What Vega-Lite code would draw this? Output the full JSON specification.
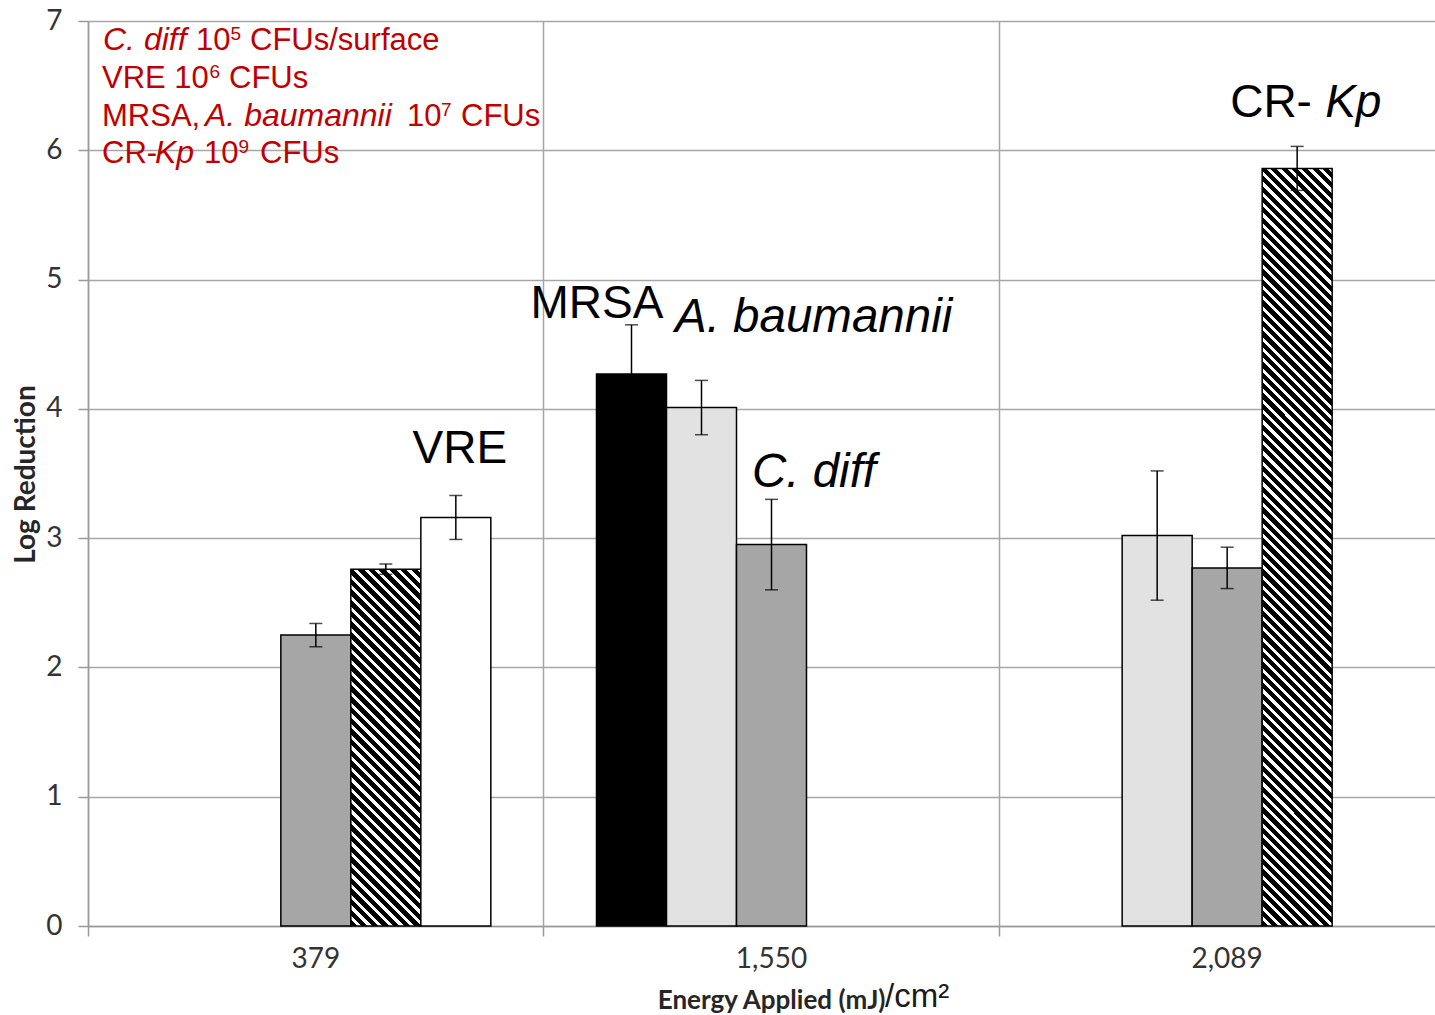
{
"$schema":"https://vega.github.io/schema/vega-lite/v6.json",
"width":1347,"height":905,
"autosize":{"type":"none"},
"padding":{"left":88,"top":21,"right":0,"bottom":89},
"background":"#ffffff",
"config":{"view":{"stroke":null},
 "axis":{"domainColor":"#9a9a9a","domainWidth":1.5,"tickColor":"#9a9a9a","tickWidth":1.5,"tickSize":10,"gridColor":"#a6a6a6","gridWidth":1.5,"labelFont":"Lato","labelFontSize":28,"labelColor":"#333333","titleFont":"Lato","titleFontWeight":"bold","titleColor":"#262626"},
 "text":{"font":"Liberation Sans","baseline":"alphabetic","align":"left"}},
"datasets":{"bars":[
{"g":"379","s":"C. diff","v":2.25,"lo":2.16,"hi":2.34},
{"g":"379","s":"CR-Kp","v":2.76,"lo":2.72,"hi":2.8},
{"g":"379","s":"VRE","v":3.16,"lo":2.99,"hi":3.33},
{"g":"1,550","s":"MRSA","v":4.27,"lo":3.89,"hi":4.65},
{"g":"1,550","s":"A. baumannii","v":4.01,"lo":3.8,"hi":4.22},
{"g":"1,550","s":"C. diff","v":2.95,"lo":2.6,"hi":3.3},
{"g":"2,089","s":"A. baumannii","v":3.02,"lo":2.52,"hi":3.52},
{"g":"2,089","s":"C. diff","v":2.77,"lo":2.61,"hi":2.93},
{"g":"2,089","s":"CR-Kp","v":5.86,"lo":5.69,"hi":6.03}
]},
"encoding":{
 "x":{"field":"g","type":"nominal","scale":{"domain":["379","1,550","2,089"],"range":[0,1367],"paddingInner":0,"paddingOuter":0}},
 "y":{"field":"v","type":"quantitative","scale":{"domain":[0,7]}}
},
"layer":[
{"data":{"name":"bars"},
 "mark":{"type":"bar","stroke":"#000000","strokeWidth":1.5},
 "encoding":{
  "x":{"field":"g","type":"nominal","scale":{"domain":["379","1,550","2,089"],"range":[0,1367],"paddingInner":0,"paddingOuter":0},
       "axis":{"title":"Energy Applied (mJ)","bandPosition":0,"grid":true,"labelAngle":0,"labelPadding":9,"titleFontSize":26,"titleAlign":"right","titleX":797,"titleY":82,"titleBaseline":"alphabetic"}},
  "xOffset":{"field":"s","type":"nominal","scale":{"domain":["MRSA","A. baumannii","C. diff","CR-Kp","VRE"],"paddingInner":0,"paddingOuter":0.7548}},
  "y":{"field":"v","type":"quantitative","scale":{"domain":[0,7]},
       "axis":{"title":"Log Reduction","values":[0,1,2,3,4,5,6,7],"format":"d","labelPadding":16,"titleFontSize":28,"titleX":-62,"titleY":453,"titleAngle":-90,"titleAlign":"center","titleBaseline":"middle"}},
  "fill":{"condition":[
    {"test":"datum.s==='MRSA'","value":"#000000"},
    {"test":"datum.s==='A. baumannii'","value":"#e2e2e2"},
    {"test":"datum.s==='C. diff'","value":"#a6a6a6"},
    {"test":"datum.s==='CR-Kp' && datum.g==='379'","value":{"gradient":"linear","x1":0,"y1":1,"x2":0.226,"y2":-0.1519,"stops":[
{"offset":0,"color":"#000"},{"offset":0.015,"color":"#000"},{"offset":0.015,"color":"#fff"},{"offset":0.025,"color":"#fff"},
{"offset":0.025,"color":"#000"},{"offset":0.04,"color":"#000"},{"offset":0.04,"color":"#fff"},{"offset":0.05,"color":"#fff"},
{"offset":0.05,"color":"#000"},{"offset":0.065,"color":"#000"},{"offset":0.065,"color":"#fff"},{"offset":0.075,"color":"#fff"},
{"offset":0.075,"color":"#000"},{"offset":0.09,"color":"#000"},{"offset":0.09,"color":"#fff"},{"offset":0.1,"color":"#fff"},
{"offset":0.1,"color":"#000"},{"offset":0.115,"color":"#000"},{"offset":0.115,"color":"#fff"},{"offset":0.125,"color":"#fff"},
{"offset":0.125,"color":"#000"},{"offset":0.14,"color":"#000"},{"offset":0.14,"color":"#fff"},{"offset":0.15,"color":"#fff"},
{"offset":0.15,"color":"#000"},{"offset":0.165,"color":"#000"},{"offset":0.165,"color":"#fff"},{"offset":0.175,"color":"#fff"},
{"offset":0.175,"color":"#000"},{"offset":0.19,"color":"#000"},{"offset":0.19,"color":"#fff"},{"offset":0.2,"color":"#fff"},
{"offset":0.2,"color":"#000"},{"offset":0.215,"color":"#000"},{"offset":0.215,"color":"#fff"},{"offset":0.225,"color":"#fff"},
{"offset":0.225,"color":"#000"},{"offset":0.24,"color":"#000"},{"offset":0.24,"color":"#fff"},{"offset":0.25,"color":"#fff"},
{"offset":0.25,"color":"#000"},{"offset":0.265,"color":"#000"},{"offset":0.265,"color":"#fff"},{"offset":0.275,"color":"#fff"},
{"offset":0.275,"color":"#000"},{"offset":0.29,"color":"#000"},{"offset":0.29,"color":"#fff"},{"offset":0.3,"color":"#fff"},
{"offset":0.3,"color":"#000"},{"offset":0.315,"color":"#000"},{"offset":0.315,"color":"#fff"},{"offset":0.325,"color":"#fff"},
{"offset":0.325,"color":"#000"},{"offset":0.34,"color":"#000"},{"offset":0.34,"color":"#fff"},{"offset":0.35,"color":"#fff"},
{"offset":0.35,"color":"#000"},{"offset":0.365,"color":"#000"},{"offset":0.365,"color":"#fff"},{"offset":0.375,"color":"#fff"},
{"offset":0.375,"color":"#000"},{"offset":0.39,"color":"#000"},{"offset":0.39,"color":"#fff"},{"offset":0.4,"color":"#fff"},
{"offset":0.4,"color":"#000"},{"offset":0.415,"color":"#000"},{"offset":0.415,"color":"#fff"},{"offset":0.425,"color":"#fff"},
{"offset":0.425,"color":"#000"},{"offset":0.44,"color":"#000"},{"offset":0.44,"color":"#fff"},{"offset":0.45,"color":"#fff"},
{"offset":0.45,"color":"#000"},{"offset":0.465,"color":"#000"},{"offset":0.465,"color":"#fff"},{"offset":0.475,"color":"#fff"},
{"offset":0.475,"color":"#000"},{"offset":0.49,"color":"#000"},{"offset":0.49,"color":"#fff"},{"offset":0.5,"color":"#fff"},
{"offset":0.5,"color":"#000"},{"offset":0.515,"color":"#000"},{"offset":0.515,"color":"#fff"},{"offset":0.525,"color":"#fff"},
{"offset":0.525,"color":"#000"},{"offset":0.54,"color":"#000"},{"offset":0.54,"color":"#fff"},{"offset":0.55,"color":"#fff"},
{"offset":0.55,"color":"#000"},{"offset":0.565,"color":"#000"},{"offset":0.565,"color":"#fff"},{"offset":0.575,"color":"#fff"},
{"offset":0.575,"color":"#000"},{"offset":0.59,"color":"#000"},{"offset":0.59,"color":"#fff"},{"offset":0.6,"color":"#fff"},
{"offset":0.6,"color":"#000"},{"offset":0.615,"color":"#000"},{"offset":0.615,"color":"#fff"},{"offset":0.625,"color":"#fff"},
{"offset":0.625,"color":"#000"},{"offset":0.64,"color":"#000"},{"offset":0.64,"color":"#fff"},{"offset":0.65,"color":"#fff"},
{"offset":0.65,"color":"#000"},{"offset":0.665,"color":"#000"},{"offset":0.665,"color":"#fff"},{"offset":0.675,"color":"#fff"},
{"offset":0.675,"color":"#000"},{"offset":0.69,"color":"#000"},{"offset":0.69,"color":"#fff"},{"offset":0.7,"color":"#fff"},
{"offset":0.7,"color":"#000"},{"offset":0.715,"color":"#000"},{"offset":0.715,"color":"#fff"},{"offset":0.725,"color":"#fff"},
{"offset":0.725,"color":"#000"},{"offset":0.74,"color":"#000"},{"offset":0.74,"color":"#fff"},{"offset":0.75,"color":"#fff"},
{"offset":0.75,"color":"#000"},{"offset":0.765,"color":"#000"},{"offset":0.765,"color":"#fff"},{"offset":0.775,"color":"#fff"},
{"offset":0.775,"color":"#000"},{"offset":0.79,"color":"#000"},{"offset":0.79,"color":"#fff"},{"offset":0.8,"color":"#fff"},
{"offset":0.8,"color":"#000"},{"offset":0.815,"color":"#000"},{"offset":0.815,"color":"#fff"},{"offset":0.825,"color":"#fff"},
{"offset":0.825,"color":"#000"},{"offset":0.84,"color":"#000"},{"offset":0.84,"color":"#fff"},{"offset":0.85,"color":"#fff"},
{"offset":0.85,"color":"#000"},{"offset":0.865,"color":"#000"},{"offset":0.865,"color":"#fff"},{"offset":0.875,"color":"#fff"},
{"offset":0.875,"color":"#000"},{"offset":0.89,"color":"#000"},{"offset":0.89,"color":"#fff"},{"offset":0.9,"color":"#fff"},
{"offset":0.9,"color":"#000"},{"offset":0.915,"color":"#000"},{"offset":0.915,"color":"#fff"},{"offset":0.925,"color":"#fff"},
{"offset":0.925,"color":"#000"},{"offset":0.94,"color":"#000"},{"offset":0.94,"color":"#fff"},{"offset":0.95,"color":"#fff"},
{"offset":0.95,"color":"#000"},{"offset":0.965,"color":"#000"},{"offset":0.965,"color":"#fff"},{"offset":0.975,"color":"#fff"},
{"offset":0.975,"color":"#000"},{"offset":0.99,"color":"#000"},{"offset":0.99,"color":"#fff"},{"offset":1,"color":"#fff"}
]}},
    {"test":"datum.s==='CR-Kp'","value":{"gradient":"linear","x1":0,"y1":1,"x2":0.1001,"y2":-0.0832,"stops":[
{"offset":0,"color":"#000"},{"offset":0.0075,"color":"#000"},{"offset":0.0075,"color":"#fff"},{"offset":0.0125,"color":"#fff"},
{"offset":0.0125,"color":"#000"},{"offset":0.02,"color":"#000"},{"offset":0.02,"color":"#fff"},{"offset":0.025,"color":"#fff"},
{"offset":0.025,"color":"#000"},{"offset":0.0325,"color":"#000"},{"offset":0.0325,"color":"#fff"},{"offset":0.0375,"color":"#fff"},
{"offset":0.0375,"color":"#000"},{"offset":0.045,"color":"#000"},{"offset":0.045,"color":"#fff"},{"offset":0.05,"color":"#fff"},
{"offset":0.05,"color":"#000"},{"offset":0.0575,"color":"#000"},{"offset":0.0575,"color":"#fff"},{"offset":0.0625,"color":"#fff"},
{"offset":0.0625,"color":"#000"},{"offset":0.07,"color":"#000"},{"offset":0.07,"color":"#fff"},{"offset":0.075,"color":"#fff"},
{"offset":0.075,"color":"#000"},{"offset":0.0825,"color":"#000"},{"offset":0.0825,"color":"#fff"},{"offset":0.0875,"color":"#fff"},
{"offset":0.0875,"color":"#000"},{"offset":0.095,"color":"#000"},{"offset":0.095,"color":"#fff"},{"offset":0.1,"color":"#fff"},
{"offset":0.1,"color":"#000"},{"offset":0.1075,"color":"#000"},{"offset":0.1075,"color":"#fff"},{"offset":0.1125,"color":"#fff"},
{"offset":0.1125,"color":"#000"},{"offset":0.12,"color":"#000"},{"offset":0.12,"color":"#fff"},{"offset":0.125,"color":"#fff"},
{"offset":0.125,"color":"#000"},{"offset":0.1325,"color":"#000"},{"offset":0.1325,"color":"#fff"},{"offset":0.1375,"color":"#fff"},
{"offset":0.1375,"color":"#000"},{"offset":0.145,"color":"#000"},{"offset":0.145,"color":"#fff"},{"offset":0.15,"color":"#fff"},
{"offset":0.15,"color":"#000"},{"offset":0.1575,"color":"#000"},{"offset":0.1575,"color":"#fff"},{"offset":0.1625,"color":"#fff"},
{"offset":0.1625,"color":"#000"},{"offset":0.17,"color":"#000"},{"offset":0.17,"color":"#fff"},{"offset":0.175,"color":"#fff"},
{"offset":0.175,"color":"#000"},{"offset":0.1825,"color":"#000"},{"offset":0.1825,"color":"#fff"},{"offset":0.1875,"color":"#fff"},
{"offset":0.1875,"color":"#000"},{"offset":0.195,"color":"#000"},{"offset":0.195,"color":"#fff"},{"offset":0.2,"color":"#fff"},
{"offset":0.2,"color":"#000"},{"offset":0.2075,"color":"#000"},{"offset":0.2075,"color":"#fff"},{"offset":0.2125,"color":"#fff"},
{"offset":0.2125,"color":"#000"},{"offset":0.22,"color":"#000"},{"offset":0.22,"color":"#fff"},{"offset":0.225,"color":"#fff"},
{"offset":0.225,"color":"#000"},{"offset":0.2325,"color":"#000"},{"offset":0.2325,"color":"#fff"},{"offset":0.2375,"color":"#fff"},
{"offset":0.2375,"color":"#000"},{"offset":0.245,"color":"#000"},{"offset":0.245,"color":"#fff"},{"offset":0.25,"color":"#fff"},
{"offset":0.25,"color":"#000"},{"offset":0.2575,"color":"#000"},{"offset":0.2575,"color":"#fff"},{"offset":0.2625,"color":"#fff"},
{"offset":0.2625,"color":"#000"},{"offset":0.27,"color":"#000"},{"offset":0.27,"color":"#fff"},{"offset":0.275,"color":"#fff"},
{"offset":0.275,"color":"#000"},{"offset":0.2825,"color":"#000"},{"offset":0.2825,"color":"#fff"},{"offset":0.2875,"color":"#fff"},
{"offset":0.2875,"color":"#000"},{"offset":0.295,"color":"#000"},{"offset":0.295,"color":"#fff"},{"offset":0.3,"color":"#fff"},
{"offset":0.3,"color":"#000"},{"offset":0.3075,"color":"#000"},{"offset":0.3075,"color":"#fff"},{"offset":0.3125,"color":"#fff"},
{"offset":0.3125,"color":"#000"},{"offset":0.32,"color":"#000"},{"offset":0.32,"color":"#fff"},{"offset":0.325,"color":"#fff"},
{"offset":0.325,"color":"#000"},{"offset":0.3325,"color":"#000"},{"offset":0.3325,"color":"#fff"},{"offset":0.3375,"color":"#fff"},
{"offset":0.3375,"color":"#000"},{"offset":0.345,"color":"#000"},{"offset":0.345,"color":"#fff"},{"offset":0.35,"color":"#fff"},
{"offset":0.35,"color":"#000"},{"offset":0.3575,"color":"#000"},{"offset":0.3575,"color":"#fff"},{"offset":0.3625,"color":"#fff"},
{"offset":0.3625,"color":"#000"},{"offset":0.37,"color":"#000"},{"offset":0.37,"color":"#fff"},{"offset":0.375,"color":"#fff"},
{"offset":0.375,"color":"#000"},{"offset":0.3825,"color":"#000"},{"offset":0.3825,"color":"#fff"},{"offset":0.3875,"color":"#fff"},
{"offset":0.3875,"color":"#000"},{"offset":0.395,"color":"#000"},{"offset":0.395,"color":"#fff"},{"offset":0.4,"color":"#fff"},
{"offset":0.4,"color":"#000"},{"offset":0.4075,"color":"#000"},{"offset":0.4075,"color":"#fff"},{"offset":0.4125,"color":"#fff"},
{"offset":0.4125,"color":"#000"},{"offset":0.42,"color":"#000"},{"offset":0.42,"color":"#fff"},{"offset":0.425,"color":"#fff"},
{"offset":0.425,"color":"#000"},{"offset":0.4325,"color":"#000"},{"offset":0.4325,"color":"#fff"},{"offset":0.4375,"color":"#fff"},
{"offset":0.4375,"color":"#000"},{"offset":0.445,"color":"#000"},{"offset":0.445,"color":"#fff"},{"offset":0.45,"color":"#fff"},
{"offset":0.45,"color":"#000"},{"offset":0.4575,"color":"#000"},{"offset":0.4575,"color":"#fff"},{"offset":0.4625,"color":"#fff"},
{"offset":0.4625,"color":"#000"},{"offset":0.47,"color":"#000"},{"offset":0.47,"color":"#fff"},{"offset":0.475,"color":"#fff"},
{"offset":0.475,"color":"#000"},{"offset":0.4825,"color":"#000"},{"offset":0.4825,"color":"#fff"},{"offset":0.4875,"color":"#fff"},
{"offset":0.4875,"color":"#000"},{"offset":0.495,"color":"#000"},{"offset":0.495,"color":"#fff"},{"offset":0.5,"color":"#fff"},
{"offset":0.5,"color":"#000"},{"offset":0.5075,"color":"#000"},{"offset":0.5075,"color":"#fff"},{"offset":0.5125,"color":"#fff"},
{"offset":0.5125,"color":"#000"},{"offset":0.52,"color":"#000"},{"offset":0.52,"color":"#fff"},{"offset":0.525,"color":"#fff"},
{"offset":0.525,"color":"#000"},{"offset":0.5325,"color":"#000"},{"offset":0.5325,"color":"#fff"},{"offset":0.5375,"color":"#fff"},
{"offset":0.5375,"color":"#000"},{"offset":0.545,"color":"#000"},{"offset":0.545,"color":"#fff"},{"offset":0.55,"color":"#fff"},
{"offset":0.55,"color":"#000"},{"offset":0.5575,"color":"#000"},{"offset":0.5575,"color":"#fff"},{"offset":0.5625,"color":"#fff"},
{"offset":0.5625,"color":"#000"},{"offset":0.57,"color":"#000"},{"offset":0.57,"color":"#fff"},{"offset":0.575,"color":"#fff"},
{"offset":0.575,"color":"#000"},{"offset":0.5825,"color":"#000"},{"offset":0.5825,"color":"#fff"},{"offset":0.5875,"color":"#fff"},
{"offset":0.5875,"color":"#000"},{"offset":0.595,"color":"#000"},{"offset":0.595,"color":"#fff"},{"offset":0.6,"color":"#fff"},
{"offset":0.6,"color":"#000"},{"offset":0.6075,"color":"#000"},{"offset":0.6075,"color":"#fff"},{"offset":0.6125,"color":"#fff"},
{"offset":0.6125,"color":"#000"},{"offset":0.62,"color":"#000"},{"offset":0.62,"color":"#fff"},{"offset":0.625,"color":"#fff"},
{"offset":0.625,"color":"#000"},{"offset":0.6325,"color":"#000"},{"offset":0.6325,"color":"#fff"},{"offset":0.6375,"color":"#fff"},
{"offset":0.6375,"color":"#000"},{"offset":0.645,"color":"#000"},{"offset":0.645,"color":"#fff"},{"offset":0.65,"color":"#fff"},
{"offset":0.65,"color":"#000"},{"offset":0.6575,"color":"#000"},{"offset":0.6575,"color":"#fff"},{"offset":0.6625,"color":"#fff"},
{"offset":0.6625,"color":"#000"},{"offset":0.67,"color":"#000"},{"offset":0.67,"color":"#fff"},{"offset":0.675,"color":"#fff"},
{"offset":0.675,"color":"#000"},{"offset":0.6825,"color":"#000"},{"offset":0.6825,"color":"#fff"},{"offset":0.6875,"color":"#fff"},
{"offset":0.6875,"color":"#000"},{"offset":0.695,"color":"#000"},{"offset":0.695,"color":"#fff"},{"offset":0.7,"color":"#fff"},
{"offset":0.7,"color":"#000"},{"offset":0.7075,"color":"#000"},{"offset":0.7075,"color":"#fff"},{"offset":0.7125,"color":"#fff"},
{"offset":0.7125,"color":"#000"},{"offset":0.72,"color":"#000"},{"offset":0.72,"color":"#fff"},{"offset":0.725,"color":"#fff"},
{"offset":0.725,"color":"#000"},{"offset":0.7325,"color":"#000"},{"offset":0.7325,"color":"#fff"},{"offset":0.7375,"color":"#fff"},
{"offset":0.7375,"color":"#000"},{"offset":0.745,"color":"#000"},{"offset":0.745,"color":"#fff"},{"offset":0.75,"color":"#fff"},
{"offset":0.75,"color":"#000"},{"offset":0.7575,"color":"#000"},{"offset":0.7575,"color":"#fff"},{"offset":0.7625,"color":"#fff"},
{"offset":0.7625,"color":"#000"},{"offset":0.77,"color":"#000"},{"offset":0.77,"color":"#fff"},{"offset":0.775,"color":"#fff"},
{"offset":0.775,"color":"#000"},{"offset":0.7825,"color":"#000"},{"offset":0.7825,"color":"#fff"},{"offset":0.7875,"color":"#fff"},
{"offset":0.7875,"color":"#000"},{"offset":0.795,"color":"#000"},{"offset":0.795,"color":"#fff"},{"offset":0.8,"color":"#fff"},
{"offset":0.8,"color":"#000"},{"offset":0.8075,"color":"#000"},{"offset":0.8075,"color":"#fff"},{"offset":0.8125,"color":"#fff"},
{"offset":0.8125,"color":"#000"},{"offset":0.82,"color":"#000"},{"offset":0.82,"color":"#fff"},{"offset":0.825,"color":"#fff"},
{"offset":0.825,"color":"#000"},{"offset":0.8325,"color":"#000"},{"offset":0.8325,"color":"#fff"},{"offset":0.8375,"color":"#fff"},
{"offset":0.8375,"color":"#000"},{"offset":0.845,"color":"#000"},{"offset":0.845,"color":"#fff"},{"offset":0.85,"color":"#fff"},
{"offset":0.85,"color":"#000"},{"offset":0.8575,"color":"#000"},{"offset":0.8575,"color":"#fff"},{"offset":0.8625,"color":"#fff"},
{"offset":0.8625,"color":"#000"},{"offset":0.87,"color":"#000"},{"offset":0.87,"color":"#fff"},{"offset":0.875,"color":"#fff"},
{"offset":0.875,"color":"#000"},{"offset":0.8825,"color":"#000"},{"offset":0.8825,"color":"#fff"},{"offset":0.8875,"color":"#fff"},
{"offset":0.8875,"color":"#000"},{"offset":0.895,"color":"#000"},{"offset":0.895,"color":"#fff"},{"offset":0.9,"color":"#fff"},
{"offset":0.9,"color":"#000"},{"offset":0.9075,"color":"#000"},{"offset":0.9075,"color":"#fff"},{"offset":0.9125,"color":"#fff"},
{"offset":0.9125,"color":"#000"},{"offset":0.92,"color":"#000"},{"offset":0.92,"color":"#fff"},{"offset":0.925,"color":"#fff"},
{"offset":0.925,"color":"#000"},{"offset":0.9325,"color":"#000"},{"offset":0.9325,"color":"#fff"},{"offset":0.9375,"color":"#fff"},
{"offset":0.9375,"color":"#000"},{"offset":0.945,"color":"#000"},{"offset":0.945,"color":"#fff"},{"offset":0.95,"color":"#fff"},
{"offset":0.95,"color":"#000"},{"offset":0.9575,"color":"#000"},{"offset":0.9575,"color":"#fff"},{"offset":0.9625,"color":"#fff"},
{"offset":0.9625,"color":"#000"},{"offset":0.97,"color":"#000"},{"offset":0.97,"color":"#fff"},{"offset":0.975,"color":"#fff"},
{"offset":0.975,"color":"#000"},{"offset":0.9825,"color":"#000"},{"offset":0.9825,"color":"#fff"},{"offset":0.9875,"color":"#fff"},
{"offset":0.9875,"color":"#000"},{"offset":0.995,"color":"#000"},{"offset":0.995,"color":"#fff"},{"offset":1,"color":"#fff"}
]}}
  ],"value":"#ffffff"}
 }},
{"data":{"name":"bars"},
 "mark":{"type":"rule","color":"#000000","strokeWidth":1.5},
 "encoding":{
  "xOffset":{"field":"s","type":"nominal","scale":{"domain":["MRSA","A. baumannii","C. diff","CR-Kp","VRE"],"paddingInner":0,"paddingOuter":0.7548}},
  "y":{"field":"lo","type":"quantitative","scale":{"domain":[0,7]}},
  "y2":{"field":"hi"}}},
{"data":{"name":"bars"},
 "mark":{"type":"tick","color":"#000000","thickness":1.5,"size":13},
 "encoding":{
  "xOffset":{"field":"s","type":"nominal","scale":{"domain":["MRSA","A. baumannii","C. diff","CR-Kp","VRE"],"paddingInner":0,"paddingOuter":0.7548}},
  "y":{"field":"lo","type":"quantitative","scale":{"domain":[0,7]}}}},
{"data":{"name":"bars"},
 "mark":{"type":"tick","color":"#000000","thickness":1.5,"size":13},
 "encoding":{
  "xOffset":{"field":"s","type":"nominal","scale":{"domain":["MRSA","A. baumannii","C. diff","CR-Kp","VRE"],"paddingInner":0,"paddingOuter":0.7548}},
  "y":{"field":"hi","type":"quantitative","scale":{"domain":[0,7]}}}},
{"data":{"values":[{"g":"379","s":"VRE","v":3.581,"t":"VRE"}]},
 "mark":{"type":"text","fontSize":46,"color":"#000000","align":"center","dx":4},
 "encoding":{
  "xOffset":{"field":"s","type":"nominal","scale":{"domain":["MRSA","A. baumannii","C. diff","CR-Kp","VRE"],"paddingInner":0,"paddingOuter":0.7548}},
  "text":{"field":"t"}}},
{"data":{"values":[{"g":"1,550","s":"MRSA","v":4.703,"t":"MRSA"}]},
 "mark":{"type":"text","fontSize":46,"color":"#000000","align":"center","dx":-34.5},
 "encoding":{
  "xOffset":{"field":"s","type":"nominal","scale":{"domain":["MRSA","A. baumannii","C. diff","CR-Kp","VRE"],"paddingInner":0,"paddingOuter":0.7548}},
  "text":{"field":"t"}}},
{"data":{"values":[{"g":"1,550","s":"A. baumannii","v":4.594,"t":"A. baumannii"}]},
 "mark":{"type":"text","fontSize":47.5,"fontStyle":"italic","color":"#000000","dx":-26.5},
 "encoding":{
  "xOffset":{"field":"s","type":"nominal","scale":{"domain":["MRSA","A. baumannii","C. diff","CR-Kp","VRE"],"paddingInner":0,"paddingOuter":0.7548}},
  "text":{"field":"t"}}},
{"data":{"values":[{"g":"1,550","s":"C. diff","v":3.396,"t":"C. diff"}]},
 "mark":{"type":"text","fontSize":47.5,"fontStyle":"italic","color":"#000000","dx":-19.5},
 "encoding":{
  "xOffset":{"field":"s","type":"nominal","scale":{"domain":["MRSA","A. baumannii","C. diff","CR-Kp","VRE"],"paddingInner":0,"paddingOuter":0.7548}},
  "text":{"field":"t"}}},
{"data":{"values":[{"g":"2,089","s":"CR-Kp","v":6.257,"t":"CR-"}]},
 "mark":{"type":"text","fontSize":46,"color":"#000000","dx":-67},
 "encoding":{
  "xOffset":{"field":"s","type":"nominal","scale":{"domain":["MRSA","A. baumannii","C. diff","CR-Kp","VRE"],"paddingInner":0,"paddingOuter":0.7548}},
  "text":{"field":"t"}}},
{"data":{"values":[{"g":"2,089","s":"CR-Kp","v":6.257,"t":"Kp"}]},
 "mark":{"type":"text","fontSize":46,"fontStyle":"italic","color":"#000000","dx":28},
 "encoding":{
  "xOffset":{"field":"s","type":"nominal","scale":{"domain":["MRSA","A. baumannii","C. diff","CR-Kp","VRE"],"paddingInner":0,"paddingOuter":0.7548}},
  "text":{"field":"t"}}},
{"data":{"values":[{"g":"379","v":6.482,"t":"VRE 10"},{"g":"379","v":6.188,"t":"MRSA,"},{"g":"379","v":5.902,"t":"CR-"}]},
 "mark":{"type":"text","fontSize":31,"color":"#c00000","dx":14},
 "encoding":{"x":{"field":"g","type":"nominal","bandPosition":0,"scale":{"domain":["379","1,550","2,089"],"range":[0,1367],"paddingInner":0,"paddingOuter":0}},"text":{"field":"t"}}},
{"data":{"values":[{"g":"379","v":6.776,"t":"C. diff"}]},
 "mark":{"type":"text","fontSize":32,"fontStyle":"italic","color":"#c00000","dx":15},
 "encoding":{"x":{"field":"g","type":"nominal","bandPosition":0,"scale":{"domain":["379","1,550","2,089"],"range":[0,1367],"paddingInner":0,"paddingOuter":0}},"text":{"field":"t"}}},
{"data":{"values":[{"g":"379","v":6.776,"t":"10"}]},
 "mark":{"type":"text","fontSize":31,"color":"#c00000","dx":108},
 "encoding":{"x":{"field":"g","type":"nominal","bandPosition":0,"scale":{"domain":["379","1,550","2,089"],"range":[0,1367],"paddingInner":0,"paddingOuter":0}},"text":{"field":"t"}}},
{"data":{"values":[{"g":"379","v":6.776,"t":"5"}]},
 "mark":{"type":"text","fontSize":19,"color":"#c00000","dx":142.5,"dy":-10},
 "encoding":{"x":{"field":"g","type":"nominal","bandPosition":0,"scale":{"domain":["379","1,550","2,089"],"range":[0,1367],"paddingInner":0,"paddingOuter":0}},"text":{"field":"t"}}},
{"data":{"values":[{"g":"379","v":6.776,"t":"CFUs/surface"}]},
 "mark":{"type":"text","fontSize":31,"color":"#c00000","dx":162},
 "encoding":{"x":{"field":"g","type":"nominal","bandPosition":0,"scale":{"domain":["379","1,550","2,089"],"range":[0,1367],"paddingInner":0,"paddingOuter":0}},"text":{"field":"t"}}},
{"data":{"values":[{"g":"379","v":6.482,"t":"6"}]},
 "mark":{"type":"text","fontSize":19,"color":"#c00000","dx":121.5,"dy":-10},
 "encoding":{"x":{"field":"g","type":"nominal","bandPosition":0,"scale":{"domain":["379","1,550","2,089"],"range":[0,1367],"paddingInner":0,"paddingOuter":0}},"text":{"field":"t"}}},
{"data":{"values":[{"g":"379","v":6.482,"t":"CFUs"}]},
 "mark":{"type":"text","fontSize":31,"color":"#c00000","dx":141},
 "encoding":{"x":{"field":"g","type":"nominal","bandPosition":0,"scale":{"domain":["379","1,550","2,089"],"range":[0,1367],"paddingInner":0,"paddingOuter":0}},"text":{"field":"t"}}},
{"data":{"values":[{"g":"379","v":6.188,"t":"A. baumannii"}]},
 "mark":{"type":"text","fontSize":32,"fontStyle":"italic","color":"#c00000","dx":117},
 "encoding":{"x":{"field":"g","type":"nominal","bandPosition":0,"scale":{"domain":["379","1,550","2,089"],"range":[0,1367],"paddingInner":0,"paddingOuter":0}},"text":{"field":"t"}}},
{"data":{"values":[{"g":"379","v":6.188,"t":"10"}]},
 "mark":{"type":"text","fontSize":31,"color":"#c00000","dx":319},
 "encoding":{"x":{"field":"g","type":"nominal","bandPosition":0,"scale":{"domain":["379","1,550","2,089"],"range":[0,1367],"paddingInner":0,"paddingOuter":0}},"text":{"field":"t"}}},
{"data":{"values":[{"g":"379","v":6.188,"t":"7"}]},
 "mark":{"type":"text","fontSize":19,"color":"#c00000","dx":353,"dy":-10},
 "encoding":{"x":{"field":"g","type":"nominal","bandPosition":0,"scale":{"domain":["379","1,550","2,089"],"range":[0,1367],"paddingInner":0,"paddingOuter":0}},"text":{"field":"t"}}},
{"data":{"values":[{"g":"379","v":6.188,"t":"CFUs"}]},
 "mark":{"type":"text","fontSize":31,"color":"#c00000","dx":373},
 "encoding":{"x":{"field":"g","type":"nominal","bandPosition":0,"scale":{"domain":["379","1,550","2,089"],"range":[0,1367],"paddingInner":0,"paddingOuter":0}},"text":{"field":"t"}}},
{"data":{"values":[{"g":"379","v":5.902,"t":"Kp"}]},
 "mark":{"type":"text","fontSize":32,"fontStyle":"italic","color":"#c00000","dx":67},
 "encoding":{"x":{"field":"g","type":"nominal","bandPosition":0,"scale":{"domain":["379","1,550","2,089"],"range":[0,1367],"paddingInner":0,"paddingOuter":0}},"text":{"field":"t"}}},
{"data":{"values":[{"g":"379","v":5.902,"t":"10"}]},
 "mark":{"type":"text","fontSize":31,"color":"#c00000","dx":116},
 "encoding":{"x":{"field":"g","type":"nominal","bandPosition":0,"scale":{"domain":["379","1,550","2,089"],"range":[0,1367],"paddingInner":0,"paddingOuter":0}},"text":{"field":"t"}}},
{"data":{"values":[{"g":"379","v":5.902,"t":"9"}]},
 "mark":{"type":"text","fontSize":19,"color":"#c00000","dx":150.5,"dy":-10},
 "encoding":{"x":{"field":"g","type":"nominal","bandPosition":0,"scale":{"domain":["379","1,550","2,089"],"range":[0,1367],"paddingInner":0,"paddingOuter":0}},"text":{"field":"t"}}},
{"data":{"values":[{"g":"379","v":5.902,"t":"CFUs"}]},
 "mark":{"type":"text","fontSize":31,"color":"#c00000","dx":172},
 "encoding":{"x":{"field":"g","type":"nominal","bandPosition":0,"scale":{"domain":["379","1,550","2,089"],"range":[0,1367],"paddingInner":0,"paddingOuter":0}},"text":{"field":"t"}}},
{"data":{"values":[{"g":"1,550","v":-0.63,"t":"/cm²"}]},
 "mark":{"type":"text","fontSize":33,"color":"#1a1a1a","dx":113.5},
 "encoding":{"text":{"field":"t"}}}
]
}
